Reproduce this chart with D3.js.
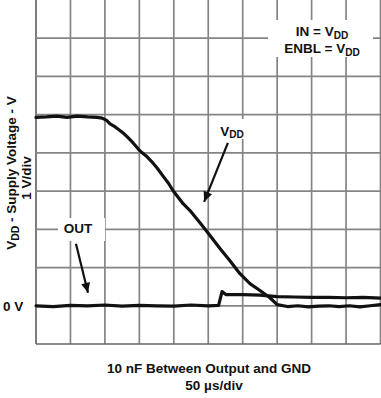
<!DOCTYPE html>
<html>
<head>
<meta charset="utf-8">
<script src="https://cdn.jsdelivr.net/npm/d3@7"></script>
<style>
  html, body { margin: 0; padding: 0; background: #fff; }
  svg { display: block; font-family: "Liberation Sans", Arial, sans-serif; font-weight: bold; }
</style>
</head>
<body>
<svg id="chart" width="381" height="398"></svg>
<script>
// ---- data (time in divisions of 50 µs, voltage in V) ----
const xTicks = [0,1,2,3,4,5,6,7,8,9,10];
const yTicks = [-1,0,1,2,3,4,5,6,7];
const vddT = [0,0.3,0.6,0.9,1.2,1.5,1.77,1.92,2.05,2.15,2.3,2.53,2.65,2.82,3.02,3.2,3.35,3.51,3.7,3.85,3.98,4.27,4.47,4.76,5.05,5.34,5.63,5.92,6.21,6.5,6.79,7.0,7.3,7.6,7.9,8.2,8.5,8.8,9.1,9.4,9.7,10];
const vddV = [4.93,4.94,4.96,4.93,4.96,4.94,4.93,4.91,4.85,4.76,4.68,4.52,4.42,4.26,4.05,3.92,3.78,3.61,3.38,3.2,3.01,2.67,2.49,2.17,1.84,1.5,1.18,0.84,0.58,0.4,0.21,0.03,-0.02,0.0,-0.03,-0.01,0.0,-0.02,0.0,-0.03,0.0,0.03];
const outT = [0,0.5,1.0,1.5,2.0,2.5,3.0,3.5,4.0,4.5,5.0,5.3,5.4,5.52,6.0,6.5,7.0,7.5,8.0,8.5,9.0,9.5,10];
const outV = [0.0,-0.02,0.01,0.0,0.02,-0.01,0.01,0.0,-0.01,0.02,0.0,0.01,0.37,0.29,0.29,0.28,0.24,0.23,0.22,0.22,0.21,0.22,0.2];

const svg = d3.select("#chart");
const pLeft = 36, pRight = 380.5, pTop = 0, pBottom = 344;
const x = d3.scaleLinear().domain([0,10]).range([pLeft, pRight]);
const y = d3.scaleLinear().domain([-1,8]).range([pBottom, pTop]);

// grid
const g = svg.append("g");
g.selectAll("line.v").data(xTicks).join("line")
  .attr("x1", d => x(d)).attr("x2", d => x(d))
  .attr("y1", pTop).attr("y2", pBottom)
  .attr("stroke", d => d === 0 ? "#666" : "#858585").attr("stroke-width", 1.7);
g.selectAll("line.h").data(yTicks).join("line")
  .attr("x1", pLeft).attr("x2", pRight)
  .attr("y1", d => y(d)).attr("y2", d => y(d))
  .attr("stroke", d => d === -1 ? "#666" : "#858585").attr("stroke-width", 1.7);

// traces
const line = d3.line().x(d => x(d[0])).y(d => y(d[1])).curve(d3.curveLinear);
const vdd = vddT.map((t,i) => [t, vddV[i]]);
const out = outT.map((t,i) => [t, outV[i]]);
[out, vdd].forEach(s => {
  svg.append("path").datum(s).attr("d", line)
    .attr("fill", "none").attr("stroke", "#111").attr("stroke-width", 3.2)
    .attr("stroke-linejoin", "round").attr("stroke-linecap", "round");
});

// white label boxes
function box(x0, y0, w, h) {
  svg.append("rect").attr("x", x0).attr("y", y0).attr("width", w).attr("height", h).attr("fill", "#fff");
}
box(268, 20, 105, 37);
box(212, 119, 38, 20);
box(58, 218, 47, 23);

// text helper with subscript
function subText(parent, tx, ty, parts, anchor, size) {
  const t = parent.append("text").attr("x", tx).attr("y", ty)
    .attr("text-anchor", anchor || "middle").attr("font-size", size || 13.5).attr("fill", "#111");
  parts.forEach(p => {
    const ts = t.append("tspan").text(p.t);
    if (p.sub) ts.attr("font-size", (size || 13.5) * 0.75).attr("dy", 2.5);
  });
  return t;
}

subText(svg, 322, 36, [{t:"IN = V"},{t:"DD", sub:true}]);
subText(svg, 322, 53, [{t:"ENBL = V"},{t:"DD", sub:true}]);
subText(svg, x(5.69), y(4.58) + 5, [{t:"V"},{t:"DD", sub:true}]);
svg.append("text").attr("x", x(1.22)).attr("y", y(2.04) + 5)
  .attr("text-anchor", "middle").attr("font-size", 13.5).attr("fill", "#111").text("OUT");

// arrows
function arrow(x1, y1, x2, y2) {
  svg.append("line").attr("x1", x1).attr("y1", y1).attr("x2", x2).attr("y2", y2)
    .attr("stroke", "#111").attr("stroke-width", 2.2);
  const ang = Math.atan2(y2 - y1, x2 - x1);
  const L = 10, W = 4.5;
  const bx = x2 - L * Math.cos(ang), by = y2 - L * Math.sin(ang);
  const px = -Math.sin(ang) * W, py = Math.cos(ang) * W;
  svg.append("path").attr("d", `M${x2},${y2}L${bx+px},${by+py}L${bx-px},${by-py}Z`).attr("fill", "#111");
}
arrow(x(5.57), y(4.26), x(4.88), y(2.72));
arrow(x(1.16), y(1.62), x(1.51), y(0.34));

// axis labels
svg.append("text").attr("x", 3).attr("y", y(0) + 5).attr("font-size", 13.5).attr("fill", "#111").text("0 V");
const yt = svg.append("text").attr("transform", "translate(16,173) rotate(-90)")
  .attr("text-anchor", "middle").attr("font-size", 13.5).attr("fill", "#111");
yt.append("tspan").text("V");
yt.append("tspan").text("DD").attr("font-size", 10.5).attr("dy", 3);
yt.append("tspan").text(" - Supply Voltage - V").attr("dy", -3);
svg.append("text").attr("transform", "translate(31,178) rotate(-90)")
  .attr("text-anchor", "middle").attr("font-size", 13.5).attr("fill", "#111").text("1 V/div");

svg.append("text").attr("x", 209).attr("y", 373).attr("text-anchor", "middle")
  .attr("font-size", 13.5).attr("fill", "#111").text("10 nF Between Output and GND");
svg.append("text").attr("x", 214).attr("y", 390).attr("text-anchor", "middle")
  .attr("font-size", 13.5).attr("fill", "#111").text("50 µs/div");
</script>
</body>
</html>
